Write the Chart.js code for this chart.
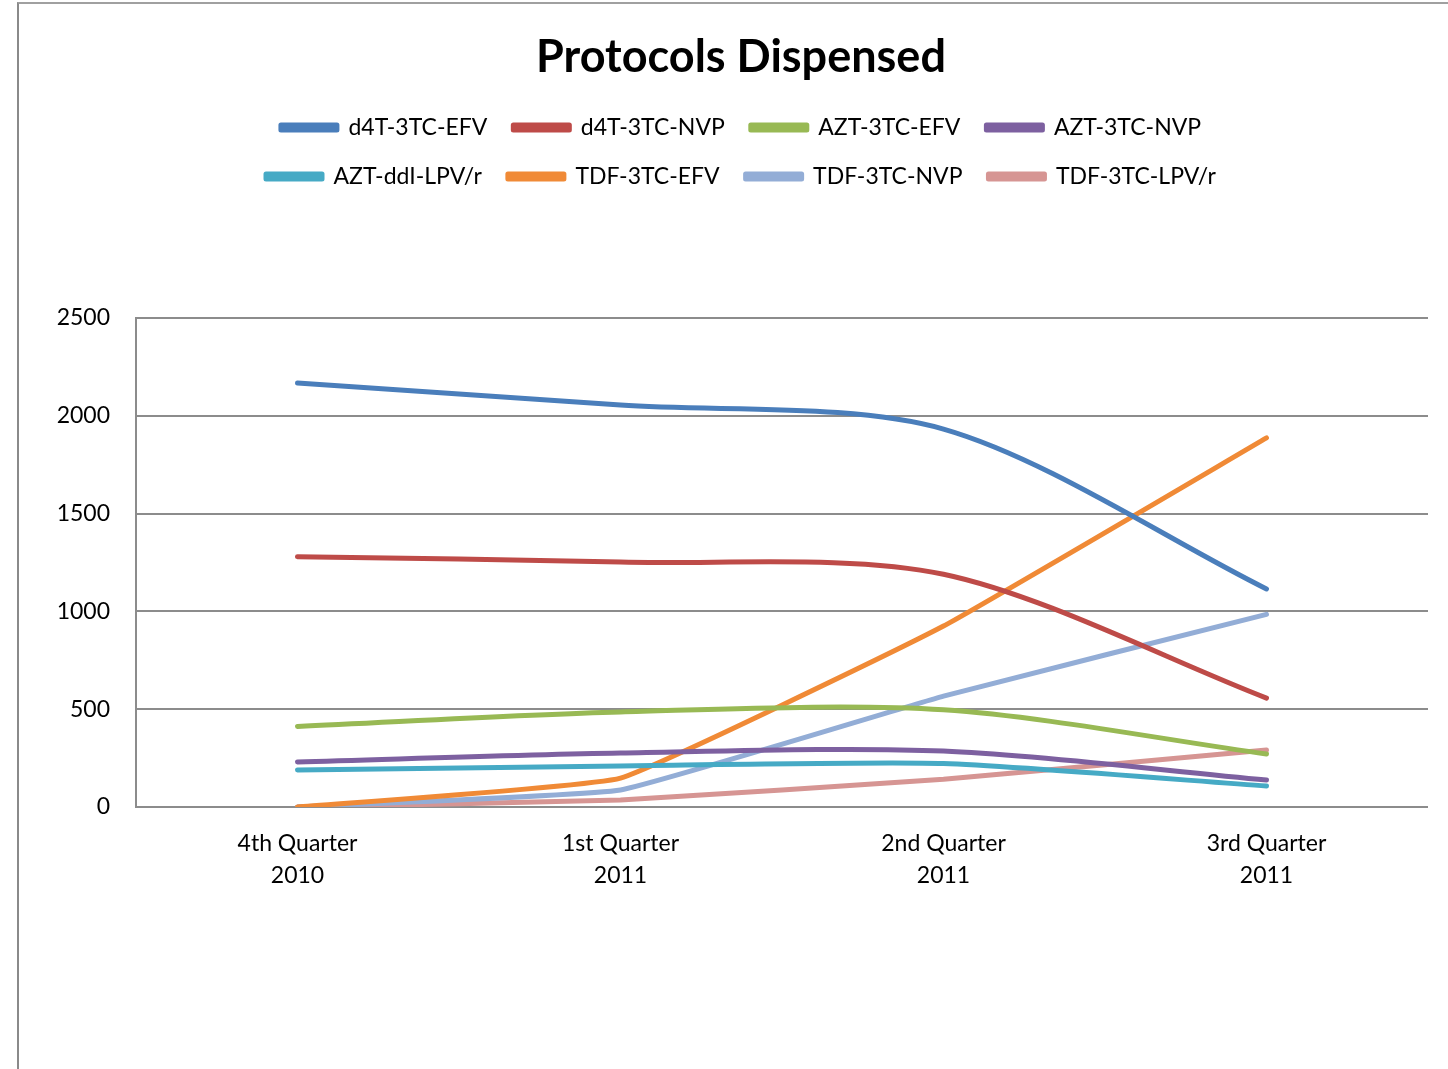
<!DOCTYPE html>
<html>
<head>
<meta charset="utf-8">
<script src="https://cdn.jsdelivr.net/npm/chart.js@4.4.0/dist/chart.umd.min.js"></script>
<style>
    html, body { margin: 0; padding: 0; background: #fff; overflow: hidden; }
    #frame {
        position: absolute; left: 17px; top: 2px;
        width: 1431px; height: 1067px;
        border-left: 2px solid #8a8a8a; border-top: 2px solid #a0a0a0;
    }
    #chart { display: block; }
</style>
</head>
<body>
<div id="frame"><canvas id="chart" width="1429" height="1065"></canvas></div>
<script>
// Categorias del eje X (dos lineas cada una)
const quarters = [
    ['4th Quarter', '2010'],
    ['1st Quarter', '2011'],
    ['2nd Quarter', '2011'],
    ['3rd Quarter', '2011']
];

// Series
const d4tEfv = [2168, 2055, 1932, 1115];
const d4tNvp = [1280, 1252, 1190, 557];
const aztEfv = [412, 486, 497, 271];
const aztNvp = [230, 276, 286, 138];
const aztDdi = [189, 210, 222, 107];
const tdfEfv = [0, 148, 925, 1887];
const tdfNvp = [0, 87, 567, 985];
const tdfLpv = [0, 36, 142, 291];

const yTicks = [0, 500, 1000, 1500, 2000, 2500];

const textColor = '#000000';
const gridColor = '#8c8c8c';

function serie(label, data, color, tension) {
    return {
        label: label,
        data: data,
        borderColor: color,
        backgroundColor: color,
        borderWidth: 5,
        borderCapStyle: 'round',
        borderJoinStyle: 'round',
        pointRadius: 0,
        tension: tension,
        fill: false
    };
}

// La leyenda va en filas de 4 y deja un hueco grande antes del grafico
const legendRows = {
    id: 'legendRows',
    beforeLayout(chart) {
        const lg = chart.legend;
        if (!lg || lg._patched) return;
        const origFit = lg.fit;
        lg.fit = function() {
            const mw = this.maxWidth;
            this.maxWidth = Math.min(mw, 1060);
            origFit.call(this);
            this.maxWidth = mw;
            this.height += 120;
        };
        lg._patched = true;
    }
};

new Chart(document.getElementById('chart'), {
    type: 'line',
    data: {
        labels: quarters,
        datasets: [
            serie('d4T-3TC-EFV', d4tEfv, '#4a7ebb', 0.3),
            serie('d4T-3TC-NVP', d4tNvp, '#be4b48', 0.3),
            serie('AZT-3TC-EFV', aztEfv, '#98b954', 0.3),
            serie('AZT-3TC-NVP', aztNvp, '#7d60a0', 0.3),
            serie('AZT-ddI-LPV/r', aztDdi, '#46aac5', 0.2),
            serie('TDF-3TC-EFV', tdfEfv, '#f08a36', 0.1),
            serie('TDF-3TC-NVP', tdfNvp, '#93add6', 0.1),
            serie('TDF-3TC-LPV/r', tdfLpv, '#d69593', 0.1)
        ]
    },
    plugins: [legendRows],
    options: {
        responsive: false,
        animation: false,
        layout: { padding: { left: 35, right: 20, top: 0, bottom: 0 } },
        plugins: {
            title: {
                display: true,
                text: 'Protocols Dispensed',
                color: textColor,
                font: { family: 'Lato', size: 45, weight: 'bold' },
                padding: { top: 26, bottom: 6 }
            },
            legend: {
                position: 'top',
                labels: {
                    color: textColor,
                    font: { family: 'Lato', size: 23 },
                    boxWidth: 56,
                    boxHeight: 5,
                    padding: 26
                }
            },
            tooltip: { enabled: false }
        },
        scales: {
            x: {
                offset: true,
                grid: { display: false, drawTicks: false },
                border: { display: false },
                ticks: {
                    color: textColor,
                    font: { family: 'Lato', size: 23, lineHeight: 1.4 },
                    padding: 20,
                    maxRotation: 0
                },
                afterFit: function(scale) { scale.height = 262; }
            },
            y: {
                min: 0,
                max: 2500,
                afterBuildTicks: function(scale) {
                    scale.ticks = yTicks.map(v => ({ value: v }));
                },
                grid: { color: gridColor, lineWidth: 2, drawTicks: false },
                border: { color: gridColor, width: 2 },
                ticks: {
                    color: textColor,
                    font: { family: 'Lato', size: 23 },
                    padding: 26,
                    callback: v => String(v)
                },
                afterFit: function(scale) { scale.width = 82; }
            }
        }
    }
});
</script>
</body>
</html>
